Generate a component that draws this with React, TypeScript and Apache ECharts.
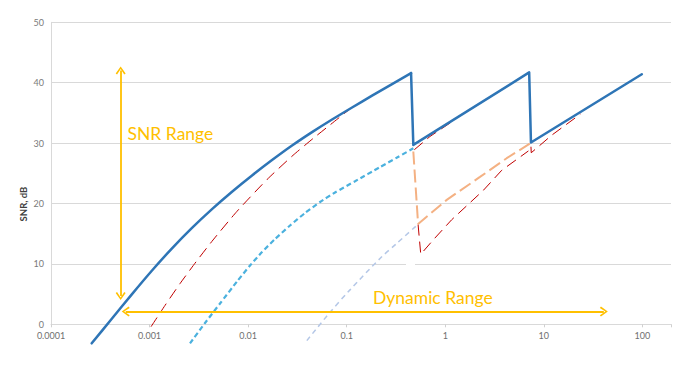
import React, { useEffect, useRef } from "react";
import * as echarts from "echarts";

// ---------- data ----------
const xTickValues = [0.0001, 0.001, 0.01, 0.1, 1, 10, 100];
const yTickValues = [0, 10, 20, 30, 40, 50];

// solid blue: combined SNR, first (curved) range
const blueCurveX = [0.0002588, 0.0004159, 0.0006637, 0.001059, 0.00169, 0.002696, 0.004301, 0.006865, 0.010953, 0.017479, 0.02789, 0.044503, 0.071015, 0.11331, 0.18081, 0.2885, 0.4497];
const blueCurveY = [-3.15, 0.96, 5.0, 8.91, 12.58, 15.96, 19.07, 21.95, 24.64, 27.19, 29.6, 31.82, 33.91, 35.89, 37.85, 39.77, 41.59];
// solid blue: saw-tooth part (range switches)
const blueSawX = [0.4497, 0.474, 7.1, 7.4, 98.6];
const blueSawY = [41.59, 29.7, 41.7, 30.1, 41.4];

// cyan dashed: second range extended below its switch point
const cyanX = [0.002572, 0.003652, 0.005185, 0.007715, 0.010454, 0.013836, 0.018745, 0.026607, 0.037775, 0.05364, 0.07614, 0.12155, 0.21807, 0.32434, 0.47446];
const cyanY = [-3.15, 0.22, 3.44, 7.09, 9.74, 11.97, 14.12, 16.36, 18.43, 20.25, 21.82, 23.69, 26.03, 27.62, 29.14];

// light blue dashed: third range extended below
const lightBlueX = [0.0394, 0.0678, 0.108, 0.2178, 0.3221, 0.525];
const lightBlueY = [-2.7, 2.0, 5.7, 10.9, 13.4, 16.5];

// orange dashed: switch drop and third range continuation
const orangeX = [0.474, 0.53, 1.035, 2.25, 4.2, 7.2];
const orangeY = [28.6, 16.6, 20.6, 24.4, 27.5, 29.9];

// red thin dashed: measured SNR of each range
const redAX = [0.0010344, 0.0014349, 0.002037, 0.0029603, 0.0044041, 0.0077155, 0.015549, 0.028549, 0.045555, 0.067771, 0.10813];
const redAY = [-0.4, 3.13, 6.74, 10.34, 13.96, 18.71, 23.97, 27.98, 30.76, 33.01, 35.66];
const redBX = [0.485, 0.7, 1.16];
const redBY = [28.9, 31.1, 33.5];
const redCX = [0.53, 0.564, 0.757, 1.16, 2.44, 3.74, 6.97];
const redCY = [16.5, 11.6, 14.0, 17.3, 22.2, 25.5, 28.7];
const redDX = [7.4, 7.45, 12, 23.5];
const redDY = [29.4, 28.4, 31.3, 34.8];

// yellow annotation arrows (data coordinates)
const snrArrowX = [0.000509, 0.000509];
const snrArrowY = [42.0, 4.7];
const dynArrowX = [0.000573, 40.6];
const dynArrowY = [2.1, 2.1];

const pairs = (xs: number[], ys: number[]) => xs.map((x, i) => [x, ys[i]]);

const FONT = "Lato, 'Open Sans', sans-serif";
const chevron = "path://M5,0 L10,8.6 L8.6,10 L5,3 L1.4,10 L0,8.6 Z";

function dashed(name: string, xs: number[], ys: number[], color: string, width: number, dash: number[], smooth: number | boolean, z = 2) {
  return {
    name,
    type: "line",
    data: pairs(xs, ys),
    symbol: "none",
    smooth,
    clip: false,
    z,
    lineStyle: { color, width, type: dash, cap: "butt" },
    emphasis: { disabled: true },
    silent: true,
  };
}

const option: any = {
  animation: false,
  textStyle: { fontFamily: FONT },
  grid: { left: 51, right: 24, top: 22.3, bottom: 47.7, containLabel: false, outerBoundsMode: "none" },
  xAxis: {
    type: "log",
    logBase: 10,
    min: xTickValues[0],
    max: 195,
    axisLine: { show: true, lineStyle: { color: "#d9d9d9", width: 1 } },
    axisTick: { show: true, length: 3, lineStyle: { color: "#d0d0d0" } },
    splitLine: { show: false },
    axisLabel: {
      color: "#6f6f6f",
      fontSize: 9,
      margin: 7,
      fontFamily: FONT,
      formatter: (v: number) => {
        const l = Math.log10(v);
        const r = Math.round(l);
        if (Math.abs(l - r) > 1e-6) return "";
        const val = Math.pow(10, r);
        const s = val.toFixed(Math.max(0, -r));
        return xTickValues.some((t) => Math.abs(Math.log10(t) - r) < 1e-6) ? s : "";
      },
    },
  },
  yAxis: {
    type: "value",
    min: yTickValues[0],
    max: yTickValues[yTickValues.length - 1],
    interval: 10,
    axisLine: { show: true, lineStyle: { color: "#d9d9d9", width: 1 } },
    axisTick: { show: false },
    splitLine: { show: true, lineStyle: { color: "#d9d9d9", width: 1 } },
    axisLabel: { color: "#7a7a7a", fontSize: 9, margin: 7, fontFamily: FONT },
  },
  graphic: [
    {
      type: "rect",
      shape: { x: 406, y: 262, width: 9, height: 4 },
      style: { fill: "#ffffff" },
      z: 1,
      silent: true,
    },
    {
      type: "text",
      x: 23,
      y: 204,
      rotation: Math.PI / 2,
      style: {
        text: "SNR, dB",
        fill: "#404040",
        font: `bold 9.5px ${FONT}`,
        align: "center",
        verticalAlign: "middle",
      },
    },
    {
      type: "text",
      x: 127.5,
      y: 133,
      style: {
        text: "SNR Range",
        fill: "#FFC000",
        font: `17.5px ${FONT}`,
        align: "left",
        verticalAlign: "middle",
      },
      z: 10,
    },
    {
      type: "text",
      x: 373,
      y: 297,
      style: {
        text: "Dynamic Range",
        fill: "#FFC000",
        font: `17.5px ${FONT}`,
        align: "left",
        verticalAlign: "middle",
      },
      z: 10,
    },
  ],
  series: [
    dashed("lightblue", lightBlueX, lightBlueY, "#B4C7E7", 1.5, [5, 4], 0.3),
    dashed("orange", orangeX, orangeY, "#F4B183", 2, [13, 5], false),
    dashed("cyan", cyanX, cyanY, "#4BB1DE", 2.2, [5, 3], 0.2),
    dashed("redA", redAX, redAY, "#C00000", 1, [11, 6], 0.2, 3),
    dashed("redB", redBX, redBY, "#C00000", 1, [11, 6], false, 3),
    dashed("redC", redCX, redCY, "#C00000", 1, [11, 6], false, 3),
    dashed("redD", redDX, redDY, "#C00000", 1, [11, 6], false, 3),
    {
      name: "blueCurve",
      type: "line",
      data: pairs(blueCurveX, blueCurveY),
      symbol: "none",
      smooth: 0.2,
      clip: false,
      z: 5,
      silent: true,
      lineStyle: { color: "#2E75B6", width: 2.5, cap: "round", join: "round" },
    },
    {
      name: "blueSaw",
      type: "line",
      data: pairs(blueSawX, blueSawY),
      symbol: "none",
      clip: false,
      z: 5,
      silent: true,
      lineStyle: { color: "#2E75B6", width: 2.5, cap: "round", join: "round" },
    },
    {
      name: "arrows",
      type: "line",
      data: [],
      symbol: "none",
      silent: true,
      z: 6,
      markLine: {
        silent: true,
        animation: false,
        symbol: [chevron, chevron],
        symbolSize: [10, 8],
        label: { show: false },
        lineStyle: { color: "#FFC000", width: 1.8, type: "solid" },
        emphasis: { disabled: true },
        data: [
          [
            { coord: [snrArrowX[0], snrArrowY[0]] },
            { coord: [snrArrowX[1], snrArrowY[1]] },
          ],
          [
            { coord: [dynArrowX[0], dynArrowY[0]] },
            { coord: [dynArrowX[1], dynArrowY[1]] },
          ],
        ],
      },
    },
  ],
};

export default function App() {
  const ref = useRef<HTMLDivElement>(null);
  useEffect(() => {
    if (!ref.current) return;
    const chart = echarts.init(ref.current, null, { renderer: "svg" });
    chart.setOption(option);
    return () => chart.dispose();
  }, []);
  return (
    <div
      ref={ref}
      style={{ position: "absolute", left: 0, top: 0, width: 695, height: 372, background: "#fff" }}
    />
  );
}
